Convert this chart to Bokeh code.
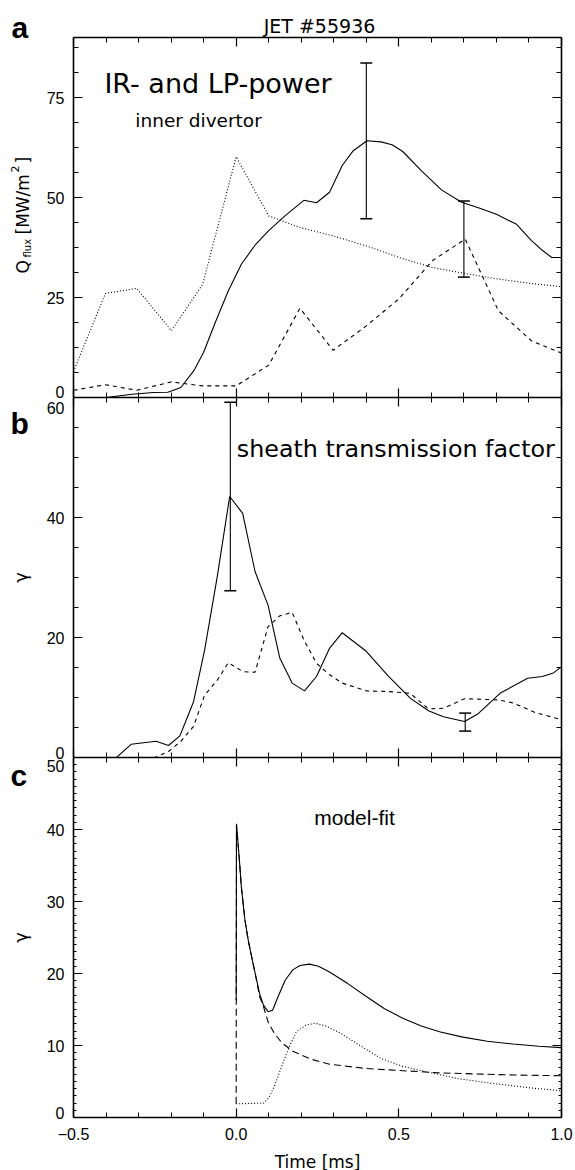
import math
from bokeh.plotting import figure
from bokeh.layouts import column
from bokeh.models import Range1d, LinearAxis, FixedTicker, Label, Whisker, ColumnDataSource, TeeHead, GridBox
from bokeh.embed import file_html
from bokeh.resources import INLINE

# ---------------- data ----------------
# panel a : heat flux (IR solid, LP dashed, dotted)
a_solid_t = [-0.5, -0.4, -0.32, -0.255, -0.21, -0.17, -0.13, -0.1, -0.063, -0.024, 0.016, 0.06, 0.1, 0.15,
             0.208, 0.247, 0.287, 0.326, 0.36, 0.402, 0.445, 0.479, 0.512, 0.569, 0.631, 0.693, 0.749, 0.8,
             0.862, 0.907, 0.941, 0.97, 1.0]
a_solid_v = [0, 0, 0.8, 1.25, 1.3, 2.5, 6.7, 11.3, 19, 26.7, 33.3, 38.3, 41.7, 45.4,
             49.3, 48.7, 51.3, 58, 61.7, 64.2, 63.9, 63.2, 61.5, 56.7, 51.9, 48.8, 47.3, 45.8,
             43.3, 39.3, 36.8, 35, 35]
a_t = [-0.5, -0.402, -0.306, -0.199, -0.103, 0.0, 0.1, 0.196, 0.298, 0.4, 0.501, 0.603, 0.704, 0.806, 0.907, 1.0]
a_dotted_v = [6.5, 26, 27.3, 16.7, 28.3, 60.2, 45.4, 42.5, 40.4, 37.9, 35, 32.5, 31, 29.6, 28.5, 27.7]
a_dashed_v = [1.8, 3.2, 1.8, 3.9, 2.9, 2.9, 8.1, 22.3, 11.8, 17.9, 24.7, 34.2, 39.6, 21.7, 14.2, 11.1]
a_err_t = [0.4, 0.7]
a_err_lo = [44.7, 30.1]
a_err_hi = [83.6, 49.1]

# panel b : sheath transmission factor
b_solid_t = [-0.5, -0.368, -0.323, -0.246, -0.208, -0.173, -0.131, -0.097, -0.058, -0.02, 0.02, 0.058, 0.098,
             0.134, 0.172, 0.21, 0.247, 0.287, 0.326, 0.4, 0.467, 0.535, 0.591, 0.637, 0.702, 0.744, 0.811,
             0.896, 0.941, 0.975, 1.0]
b_solid_v = [0, 0, 2.2, 2.7, 2.0, 3.6, 9.3, 17.9, 30.2, 43.5, 40.7, 31, 25.4,
             16.6, 12.4, 11.1, 13.5, 18.2, 20.8, 17.7, 13.6, 9.9, 7.8, 6.8, 6.0, 7.3, 10.7,
             13.2, 13.5, 14.1, 15.1]
b_dashed_t = [-0.5, -0.25, -0.208, -0.17, -0.131, -0.097, -0.058, -0.024, 0.021, 0.058, 0.098, 0.134, 0.172,
              0.208, 0.247, 0.287, 0.326, 0.4, 0.467, 0.535, 0.591, 0.637, 0.702, 0.806, 0.851, 0.919, 1.0]
b_dashed_v = [0, 0, 1.0, 2.7, 5.2, 10.4, 12.9, 15.8, 14.3, 14.2, 21.8, 23.6, 24.2,
              19.6, 15.7, 13.8, 12.4, 11.1, 11.0, 10.7, 8.1, 8.2, 9.8, 9.6, 9.1, 7.5, 6.3]
b_err_t = [-0.018, 0.704]
b_err_lo = [27.8, 4.4]
b_err_hi = [59.2, 7.4]

# panel c : model fit
c_solid_t = [0.0, 0.001, 0.010, 0.016, 0.027, 0.038, 0.050, 0.061, 0.072, 0.084, 0.098, 0.112, 0.129, 0.151,
             0.174, 0.196, 0.225, 0.253, 0.287, 0.343, 0.4, 0.456, 0.512, 0.569, 0.625, 0.693, 0.772,
             0.851, 0.93, 1.0]
c_solid_v = [16.3, 40.8, 35.7, 32.0, 27.4, 24.4, 21.8, 19.5, 17.2, 15.6, 14.7, 14.9, 16.8, 19.1,
             20.5, 21.1, 21.3, 21.0, 20.2, 18.6, 16.8, 15.1, 13.8, 12.7, 11.9, 11.2, 10.6,
             10.2, 9.9, 9.7]
c_dashed_t = [0.0, 0.001, 0.010, 0.016, 0.027, 0.038, 0.050, 0.061, 0.072, 0.084, 0.098, 0.117, 0.14, 0.174,
              0.23, 0.287, 0.4, 0.512, 0.625, 0.738, 0.851, 1.0]
c_dashed_v = [1.9, 40.6, 35.7, 32.0, 27.4, 24.4, 21.8, 19.4, 16.8, 15.4, 13.3, 11.7, 10.4, 9.2,
              8.1, 7.4, 6.8, 6.5, 6.2, 6.05, 5.9, 5.8]
c_dotted_t = [0.0, 0.084, 0.1, 0.117, 0.14, 0.163, 0.185, 0.213, 0.242, 0.276, 0.321, 0.377, 0.445, 0.512,
              0.58, 0.682, 0.794, 0.907, 1.0]
c_dotted_v = [1.9, 2.0, 2.7, 4.3, 7.1, 9.8, 11.9, 12.8, 13.1, 12.7, 11.7, 10.1, 8.2, 7.1,
              6.4, 5.4, 4.7, 4.1, 3.7]

x_major = [-0.5, 0.0, 0.5, 1.0]
x_major_labels = {-0.5: "\u22120.5", 0.0: "0.0", 0.5: "0.5", 1.0: "1.0"}
x_minor = [-0.4, -0.3, -0.2, -0.1, 0.1, 0.2, 0.3, 0.4, 0.6, 0.7, 0.8, 0.9]
a_major = [0, 25, 50, 75]
a_minor = [6.25, 12.5, 18.75, 31.25, 37.5, 43.75, 56.25, 62.5, 68.75, 81.25, 87.5]
b_major = [0, 20, 40, 60]
b_minor = [5, 10, 15, 25, 30, 35, 45, 50, 55]
c_major = [0, 10, 20, 30, 40, 50]
c_minor = [i for i in range(1, 50) if i % 10]

FONT = "DejaVu Sans"
TICKFONT = "Liberation Sans"
LW = 1.1
FW, FH = 488, 360
BL, BR, BT = 73, 14, 37
TOTAL_W, TOTAL_H = BL + FW + BR, 1170


def make_fig(y0, y1, top, bottom=0):
    p = figure(frame_width=FW, frame_height=FH, x_range=Range1d(-0.5, 1.0), y_range=Range1d(y0, y1),
               output_backend="svg", toolbar_location=None, x_axis_type=None, y_axis_type=None,
               min_border_left=BL, min_border_right=BR, min_border_top=top, min_border_bottom=bottom)
    p.outline_line_color = None
    p.background_fill_color = "white"
    p.border_fill_color = "white"
    return p


def add_axis(p, side, ticks, minor, show=False, overrides=None, minor_in=5):
    ax = LinearAxis(ticker=FixedTicker(ticks=ticks, minor_ticks=minor),
                    axis_line_width=1.6, axis_line_color="black",
                    major_tick_in=9, major_tick_out=0, minor_tick_in=minor_in, minor_tick_out=0,
                    major_tick_line_color="black", minor_tick_line_color="black",
                    major_tick_line_width=1.2, minor_tick_line_width=1.0)
    if show:
        ax.major_label_text_font = TICKFONT
        ax.major_label_text_font_size = "16px"
        ax.major_label_text_color = "black"
        ax.major_label_standoff = 9
        if overrides:
            ax.major_label_overrides = overrides
    else:
        ax.major_label_overrides = {t: "" for t in ticks}
        ax.major_label_text_font_size = "1px"
        ax.major_label_standoff = 0
    p.add_layout(ax, side)
    return ax


def lab(p, text, x, y, size, font=FONT, align="left", baseline="alphabetic", angle=0.0, style="normal"):
    p.add_layout(Label(x=x, y=y, text=text, text_font=font, text_font_size=f"{size}px",
                       text_align=align, text_baseline=baseline, angle=angle,
                       text_font_style=style, text_color="black"))


def whiskers(p, t, lo, hi):
    src = ColumnDataSource(dict(base=t, lower=lo, upper=hi))
    p.add_layout(Whisker(base="base", lower="lower", upper="upper", source=src,
                         line_color="black", line_width=1.1,
                         upper_head=TeeHead(size=12, line_color="black", line_width=1.5),
                         lower_head=TeeHead(size=12, line_color="black", line_width=1.5)))


# ---------------- panel a ----------------
p1 = make_fig(0, 90, BT)
add_axis(p1, "left", a_major, a_minor, show=True, overrides={0: ""})
add_axis(p1, "right", a_major, a_minor)
add_axis(p1, "above", x_major, x_minor)
add_axis(p1, "below", x_major, x_minor)
p1.line(a_solid_t, a_solid_v, line_color="black", line_width=LW)
p1.line(a_t, a_dotted_v, line_color="black", line_width=LW, line_dash="1 2")
p1.line(a_t, a_dashed_v, line_color="black", line_width=LW, line_dash="4 4")
whiskers(p1, a_err_t, a_err_lo, a_err_hi)
lab(p1, "IR- and LP-power", -0.405, 78.5, 27)
lab(p1, "inner divertor", -0.31, 69.3, 18.5)

# ---------------- panel b ----------------
p2 = make_fig(0, 60, 0)
add_axis(p2, "left", b_major, b_minor, show=True, overrides={0: "", 60: ""})
add_axis(p2, "right", b_major, b_minor)
add_axis(p2, "above", x_major, x_minor)
add_axis(p2, "below", x_major, x_minor)
p2.line(b_solid_t, b_solid_v, line_color="black", line_width=LW)
p2.line(b_dashed_t, b_dashed_v, line_color="black", line_width=LW, line_dash="4 4")
whiskers(p2, b_err_t, b_err_lo, b_err_hi)
lab(p2, "sheath transmission factor", 0.002, 51.5, 23.8)

# ---------------- panel c ----------------
p3 = make_fig(0, 50, 0, bottom=TOTAL_H - (BT + FH) - 2 * FH)
add_axis(p3, "left", c_major, c_minor, show=True, overrides={0: "", 50: ""}, minor_in=3)
add_axis(p3, "right", c_major, c_minor, minor_in=3)
add_axis(p3, "above", x_major, x_minor)
bx = add_axis(p3, "below", x_major, x_minor, show=True, overrides=x_major_labels)
bx.major_label_standoff = 10
p3.line(c_solid_t, c_solid_v, line_color="black", line_width=LW)
p3.line(c_dashed_t, c_dashed_v, line_color="black", line_width=LW, line_dash="7 4")
p3.line(c_dotted_t, c_dotted_v, line_color="black", line_width=LW, line_dash="1 2")
lab(p3, "model-fit", 0.24, 41.7, 21, font="Liberation Sans")

# ---------------- overlay for texts outside the plot frames (pixel layout) ----------------
ov = figure(width=TOTAL_W, height=TOTAL_H, x_range=Range1d(0, TOTAL_W), y_range=Range1d(TOTAL_H, 0),
            output_backend="svg", toolbar_location=None, x_axis_type=None, y_axis_type=None,
            min_border_left=0, min_border_right=0, min_border_top=0, min_border_bottom=0)
ov.outline_line_color = None
ov.background_fill_color = None
ov.border_fill_color = None
ov.xgrid.visible = False
ov.ygrid.visible = False

lab(ov, "JET #55936", 319, 25, 19, align="center")
lab(ov, "a", 11, 26.5, 30, font="Liberation Sans", style="bold")
lab(ov, "b", 10, 423, 30, font="Liberation Sans", style="bold")
lab(ov, "c", 10, 775, 30, font="Liberation Sans", style="bold")
# edge tick labels shifted inside their panels
lab(ov, "0", 64, 391, 16, font=TICKFONT, align="right", baseline="middle")
lab(ov, "60", 64, 407, 16, font=TICKFONT, align="right", baseline="middle")
lab(ov, "0", 64, 752, 16, font=TICKFONT, align="right", baseline="middle")
lab(ov, "50", 64, 765, 16, font=TICKFONT, align="right", baseline="middle")
lab(ov, "0", 64, 1112, 16, font=TICKFONT, align="right", baseline="middle")
# y-axis titles
lab(ov, "Q", 22, 273, 17, baseline="middle", angle=math.pi / 2)
lab(ov, "flux", 27, 257, 10, baseline="middle", angle=math.pi / 2)
lab(ov, "[MW/m", 22, 234, 17, baseline="middle", angle=math.pi / 2)
lab(ov, "2", 14, 172, 11, baseline="middle", angle=math.pi / 2)
lab(ov, "]", 22, 163, 17, baseline="middle", angle=math.pi / 2)
lab(ov, "\u03b3", 19.5, 577, 18, align="center", baseline="middle", angle=math.pi / 2)
lab(ov, "\u03b3", 19.5, 937, 18, align="center", baseline="middle", angle=math.pi / 2)
# x-axis title
lab(ov, "Time [ms]", 317, 1161, 17, align="center", baseline="middle")

stack = column(p1, p2, p3, spacing=0)
layout = GridBox(children=[(stack, 0, 0), (ov, 0, 0)])
open("out.html", "w").write(file_html(layout, INLINE))
